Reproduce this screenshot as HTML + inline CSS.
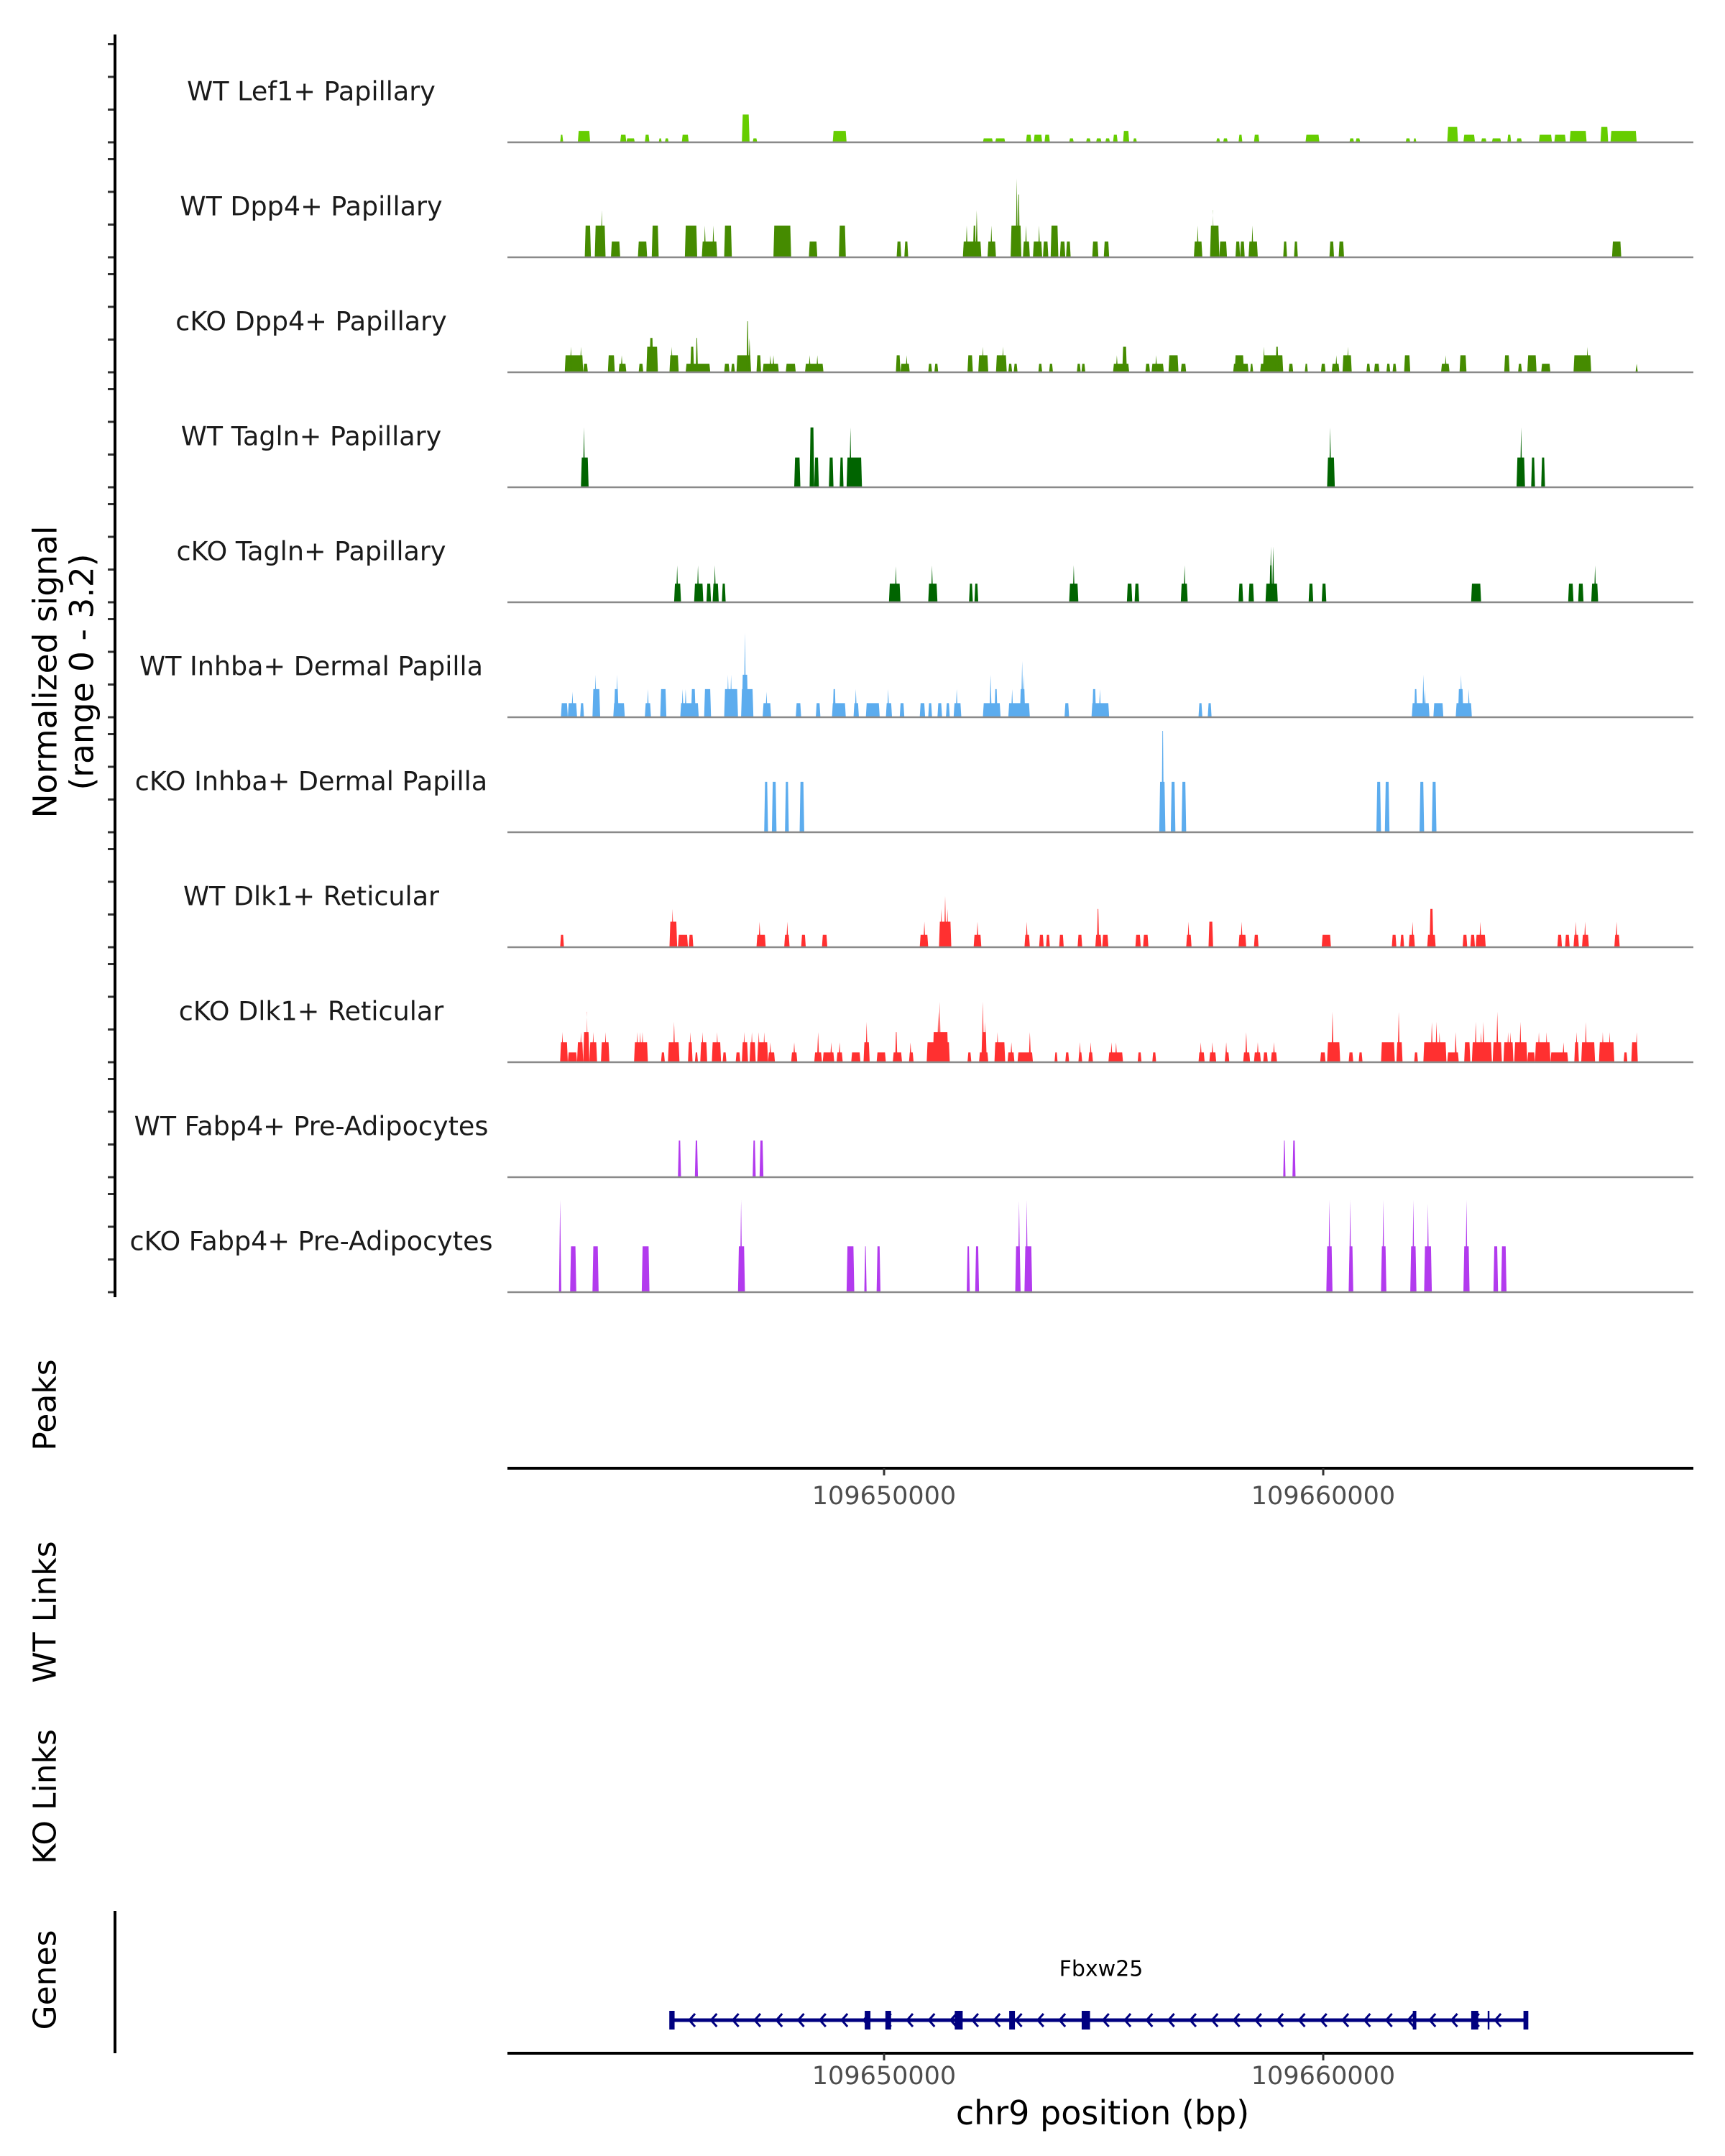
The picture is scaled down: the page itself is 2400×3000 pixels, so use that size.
<!DOCTYPE html>
<html><head><meta charset="utf-8">
<style>
html,body{margin:0;padding:0;background:#fff;}
svg{display:block;}
text{font-family:"DejaVu Sans","Liberation Sans",sans-serif;}
</style></head>
<body>
<svg id="chart" width="2400" height="3000" viewBox="0 0 2400 3000" xmlns="http://www.w3.org/2000/svg">
  <rect width="2400" height="3000" fill="#fff"/>
  <g id="tracks"></g>
  <g id="yaxis"></g>
  <text transform="translate(63,935) rotate(-90)" text-anchor="middle" dominant-baseline="central" font-size="45.5" fill="#000">Normalized signal</text>
  <text transform="translate(114,935) rotate(-90)" text-anchor="middle" dominant-baseline="central" font-size="45.5" fill="#000">(range 0 - 3.2)</text>
  <text transform="translate(63,1955) rotate(-90)" text-anchor="middle" dominant-baseline="central" font-size="44" fill="#000">Peaks</text>
  <text transform="translate(63,2243) rotate(-90)" text-anchor="middle" dominant-baseline="central" font-size="44" fill="#000">WT Links</text>
  <text transform="translate(63,2500) rotate(-90)" text-anchor="middle" dominant-baseline="central" font-size="44" fill="#000">KO Links</text>
  <text transform="translate(63,2755) rotate(-90)" text-anchor="middle" dominant-baseline="central" font-size="44" fill="#000">Genes</text>
  <line x1="160" y1="2659" x2="160" y2="2857" stroke="#000" stroke-width="4"/>
  <g id="xaxes"></g>
  <g id="genes"></g>
  <text x="1534" y="2940" text-anchor="middle" dominant-baseline="central" font-size="46" fill="#000">chr9 position (bp)</text>
</svg>
<script>
// ---- data ----
const regionStart = 109641326;   // bp, first coverage bin
const BIN_BP = 17.535;           // bp per coverage bin
const xTicks = [109650000, 109660000];
const xTickLabels = ["109650000", "109660000"];
const yTicks = [0, 1, 2, 3];
const trackNames = ["WT Lef1+ Papillary","WT Dpp4+ Papillary","cKO Dpp4+ Papillary","WT Tagln+ Papillary","cKO Tagln+ Papillary","WT Inhba+ Dermal Papilla","cKO Inhba+ Dermal Papilla","WT Dlk1+ Reticular","cKO Dlk1+ Reticular","WT Fabp4+ Pre-Adipocytes","cKO Fabp4+ Pre-Adipocytes"];
const trackColors = ["#66cd00","#458b00","#458b00","#006400","#006400","#5cacee","#5cacee","#ff3030","#ff3030","#b23aee","#b23aee"];
// [startBin, endBin, value]
const lef1WT = [[74,78,.23],[97,113,.35],[152,160,.23],[160,171,.12],[184,190,.23],[202,206,.12],[210,215,.12],[232,241,.23],[310,320,.85],[324,330,.12],[428,446,.35],[623,636,.12],[639,652,.12],[679,686,.23],[689,700,.23],[703,710,.23],[735,741,.12],[757,763,.12],[770,777,.12],[782,788,.12],[792,798,.23],[805,813,.35],[818,823,.12],[926,931,.12],[935,941,.12],[955,960,.23],[975,982,.23],[1042,1060,.23],[1099,1105,.12],[1107,1113,.12],[1172,1178,.12],[1182,1186,.12],[1226,1240,.47],[1247,1262,.23],[1270,1277,.12],[1284,1296,.12],[1304,1309,.23],[1316,1323,.12],[1345,1362,.23],[1365,1380,.23],[1385,1407,.35],[1425,1435,.47],[1438,1472,.35]];
const dpp4WT = [[106,114,.97],[119,133,.97],[128,128,1.44],[140,152,.48],[175,187,.48],[193,202,.97],[236,252,.97],[258,278,.48],[262,262,.97],[273,273,.97],[287,297,.97],[351,374,.97],[397,408,.48],[436,445,.97],[511,517,.48],[521,526,.48],[597,621,.48],[602,602,.97],[610,614,.97],[615,615,1.44],[629,640,.48],[634,634,.97],[659,673,.97],[667,667,2.41],[668,671,1.92],[675,684,.48],[679,679,.97],[688,700,.48],[696,696,.97],[701,708,.48],[711,721,.97],[723,730,.48],[731,737,.48],[765,773,.48],[780,787,.48],[897,908,.48],[902,902,.97],[918,930,.97],[930,940,.48],[921,923,1.44],[951,957,.48],[957,963,.48],[968,980,.48],[973,973,.97],[1013,1018,.48],[1027,1032,.48],[1073,1079,.48],[1085,1092,.48],[1440,1452,.48]];
const dpp4KO = [[80,104,.52],[88,88,.78],[101,101,.78],[104,110,.26],[136,145,.52],[150,160,.26],[154,154,.52],[176,182,.26],[186,201,.78],[190,195,1.05],[216,228,.52],[219,219,.78],[237,269,.26],[243,248,.78],[250,253,1.05],[287,294,.26],[296,301,.26],[303,322,.52],[316,319,1.56],[320,320,1.05],[329,335,.52],[337,358,.26],[347,347,.52],[351,351,.52],[367,380,.26],[392,416,.26],[398,398,.52],[408,408,.52],[510,516,.52],[516,528,.26],[524,524,.52],[552,557,.26],[560,565,.26],[603,610,.52],[617,630,.52],[623,623,.78],[640,654,.52],[649,649,.78],[656,661,.26],[663,668,.26],[695,700,.26],[709,714,.26],[745,750,.26],[751,756,.26],[792,813,.26],[797,797,.52],[804,810,.78],[834,840,.26],[842,858,.26],[848,848,.52],[864,877,.52],[880,887,.26],[948,968,.26],[950,962,.52],[970,974,.26],[983,990,.26],[987,1013,.52],[988,988,.78],[1003,1007,.78],[1020,1026,.26],[1041,1045,.26],[1062,1068,.26],[1076,1086,.26],[1082,1082,.52],[1090,1102,.52],[1097,1097,.78],[1121,1126,.26],[1131,1138,.26],[1147,1152,.26],[1155,1160,.26],[1170,1178,.52],[1218,1229,.26],[1224,1224,.52],[1242,1251,.52],[1300,1307,.52],[1318,1323,.26],[1330,1342,.52],[1348,1360,.26],[1390,1413,.52],[1408,1408,.78],[1472,1472,.26]];
const taglnWT = [[101,111,.91],[105,105,1.83],[378,386,.91],[398,404,1.83],[404,410,.91],[423,429,.91],[437,442,.91],[446,466,.91],[451,451,1.83],[1070,1080,.91],[1074,1074,1.83],[1316,1327,.91],[1322,1322,1.83],[1335,1340,.91],[1348,1353,.91]];
const taglnKO = [[222,231,.57],[226,226,1.13],[248,260,.57],[253,253,1.13],[264,270,.57],[272,280,.57],[275,275,1.13],[284,289,.57],[501,516,.57],[510,510,1.1],[552,564,.57],[557,557,1.13],[605,610,.57],[612,617,.57],[735,747,.57],[741,741,1.13],[810,817,.57],[820,826,.57],[880,889,.57],[885,885,1.13],[955,961,.57],[968,975,.57],[990,1006,.57],[995,999,1.13],[997,997,1.7],[1000,1000,1.7],[1046,1052,.57],[1063,1069,.57],[1257,1270,.57],[1383,1390,.57],[1396,1403,.57],[1413,1422,.57],[1418,1418,1.13]];
const inhbaWT = [[75,84,.43],[84,96,.43],[90,90,.78],[100,105,.43],[116,126,.86],[120,120,1.3],[143,158,.43],[144,150,.86],[148,148,1.3],[184,192,.43],[188,188,.86],[204,212,.86],[230,254,.43],[233,233,.86],[237,237,.86],[244,250,.86],[261,270,.86],[287,305,.86],[292,292,1.3],[296,296,1.3],[309,325,.86],[310,318,1.3],[314,314,2.58],[337,348,.43],[342,342,.78],[380,387,.43],[406,412,.43],[427,445,.43],[428,432,.86],[455,462,.43],[458,458,.86],[471,489,.43],[497,505,.43],[500,500,.86],[515,521,.43],[541,548,.43],[552,557,.43],[564,570,.43],[575,580,.43],[585,595,.43],[589,589,.86],[623,646,.43],[633,633,1.3],[638,642,.86],[656,684,.43],[661,661,.86],[671,678,.86],[674,674,1.72],[676,676,1.3],[729,735,.43],[764,787,.43],[765,770,.86],[775,775,.86],[903,908,.43],[915,920,.43],[1180,1203,.43],[1183,1187,.86],[1195,1195,1.3],[1197,1197,.86],[1208,1221,.43],[1237,1258,.43],[1240,1247,.86],[1244,1244,1.3],[1254,1254,.86]];
const inhbaKO = [[339,344,1.54],[349,355,1.54],[366,371,1.54],[385,391,1.54],[852,860,1.54],[855,858,3.1],[867,873,1.54],[881,887,1.54],[1134,1140,1.54],[1145,1151,1.54],[1190,1196,1.54],[1206,1212,1.54]];
const dlk1WT = [[74,79,.38],[216,226,.78],[220,220,1.17],[227,240,.38],[241,247,.38],[329,341,.38],[333,333,.78],[365,372,.38],[369,369,.78],[387,393,.38],[414,421,.38],[541,552,.38],[547,547,.78],[566,582,.78],[569,569,1.17],[574,574,1.56],[577,577,1.17],[611,621,.38],[616,616,.78],[677,684,.38],[680,680,.78],[696,702,.38],[705,710,.38],[722,728,.38],[746,752,.38],[769,777,.38],[771,774,1.17],[778,786,.38],[821,828,.38],[831,838,.38],[887,894,.38],[890,890,.78],[916,922,.78],[955,965,.38],[959,959,.78],[975,981,.38],[1063,1075,.38],[1154,1160,.38],[1165,1170,.38],[1176,1184,.38],[1181,1181,.78],[1200,1211,.38],[1203,1208,1.17],[1246,1252,.38],[1256,1262,.38],[1263,1276,.38],[1269,1269,.78],[1369,1375,.38],[1379,1385,.38],[1390,1397,.38],[1393,1393,.78],[1401,1410,.38],[1405,1405,.78],[1443,1450,.38],[1446,1446,.78]];
const dlk1KO = [[74,84,.61],[77,77,.92],[84,96,.30],[96,104,.61],[101,101,.92],[104,112,.92],[108,110,1.54],[112,122,.61],[117,117,.92],[127,138,.61],[133,133,.92],[170,188,.61],[174,174,.92],[178,178,.92],[181,181,.92],[205,210,.30],[214,229,.61],[222,222,1.23],[240,246,.61],[243,243,.92],[249,253,.30],[256,265,.61],[259,259,.92],[271,283,.61],[278,278,.92],[285,290,.30],[302,308,.30],[310,318,.61],[313,313,.92],[320,328,.61],[323,323,.92],[330,344,.61],[332,332,.92],[339,339,.92],[344,353,.30],[347,347,.61],[374,382,.30],[378,378,.61],[404,414,.30],[409,409,.92],[415,430,.30],[426,426,.61],[433,441,.30],[437,437,.61],[452,464,.30],[468,476,.61],[472,472,1.23],[485,497,.30],[506,518,.30],[509,512,.92],[527,533,.30],[529,529,.61],[550,580,.61],[558,578,.92],[565,565,1.54],[567,567,1.85],[603,608,.30],[618,630,.30],[621,628,.92],[623,623,1.85],[626,626,1.23],[638,652,.61],[642,642,.92],[655,664,.30],[660,660,.61],[668,688,.30],[684,684,.92],[716,720,.30],[730,735,.30],[747,752,.30],[749,749,.61],[760,766,.30],[763,763,.61],[786,805,.30],[790,790,.61],[796,796,.61],[824,829,.30],[843,848,.30],[903,911,.30],[906,906,.61],[917,926,.30],[921,921,.61],[937,943,.30],[939,939,.61],[961,970,.30],[965,965,.92],[975,984,.30],[980,980,.61],[987,993,.30],[997,1005,.30],[1001,1001,.61],[1061,1068,.30],[1070,1087,.61],[1077,1077,1.54],[1098,1104,.30],[1111,1116,.30],[1140,1158,.61],[1160,1168,.61],[1163,1163,1.54],[1183,1188,.30],[1195,1225,.61],[1206,1206,1.23],[1212,1212,1.23],[1216,1216,.92],[1226,1241,.30],[1237,1237,.92],[1248,1256,.61],[1258,1284,.61],[1263,1263,1.23],[1270,1270,.92],[1273,1273,1.23],[1285,1297,.61],[1291,1291,1.54],[1299,1312,.61],[1305,1305,.92],[1308,1308,.92],[1313,1330,.61],[1321,1321,1.23],[1330,1340,.30],[1340,1360,.61],[1345,1345,.92],[1355,1355,.92],[1360,1383,.30],[1377,1377,.61],[1391,1397,.61],[1394,1394,.92],[1400,1418,.61],[1406,1406,1.23],[1423,1443,.61],[1428,1428,.92],[1437,1437,.92],[1455,1460,.30],[1465,1473,.61],[1472,1472,.92]];
const fabp4WT = [[227,231,1.12],[249,253,1.12],[324,328,1.12],[333,338,1.12],[1013,1016,1.12],[1025,1029,1.12]];
const fabp4KO = [[74,74,2.82],[87,95,1.4],[116,124,1.4],[180,190,1.4],[305,314,1.4],[309,309,2.82],[446,456,1.4],[469,472,1.4],[485,490,1.4],[602,606,1.4],[613,618,1.4],[665,672,1.4],[670,670,2.8],[677,687,1.4],[680,680,2.82],[1069,1077,1.4],[1073,1073,2.82],[1098,1104,1.4],[1100,1100,2.82],[1140,1147,1.4],[1143,1143,2.82],[1178,1186,1.4],[1182,1182,2.82],[1196,1206,1.4],[1201,1201,2.7],[1247,1255,1.4],[1251,1251,2.82],[1286,1292,1.4],[1296,1303,1.4]];
const trackData = [lef1WT,dpp4WT,dpp4KO,taglnWT,taglnKO,inhbaWT,inhbaKO,dlk1WT,dlk1KO,fabp4WT,fabp4KO];
const geneName = "Fbxw25";
const geneStart = 109645172, geneEnd = 109664615;
const exonStarts = [109645110,109649560,109650030,109651610,109652850,109654500,109662040,109663370,109663745,109664560];
const exonEnds   = [109645230,109649690,109650160,109651790,109652980,109654690,109662120,109663530,109663785,109664670];

// ---- scales ----
const NS = "http://www.w3.org/2000/svg";
const PLOT_L = 706, PLOT_R = 2356;
const xScale = bp => 1230 + (bp - 109650000) * 0.0611;
const binToBp = b => regionStart + b * BIN_BP;
const baseY = i => 198 + 160 * i;
const yScale = (i, v) => baseY(i) - v * 45.5;
function mk(tag, attrs, parent){ const e=document.createElementNS(NS,tag); for(const k in attrs) e.setAttribute(k,attrs[k]); parent.appendChild(e); return e; }

const tracksG = document.getElementById('tracks');
const yG = document.getElementById('yaxis');
trackNames.forEach((name, i) => {
  const g = mk('g', {}, tracksG);
  
  
  const lbl = mk('text', {x:433, y:baseY(i)-71, 'text-anchor':'middle', 'dominant-baseline':'central', 'font-size':36.5, fill:'#1a1a1a'}, g);
  lbl.textContent = name;
  
  
  trackData[i].forEach(p => {
    let x1 = xScale(binToBp(p[0])), x2 = xScale(binToBp(p[1]));
    const b = baseY(i), t = yScale(i, p[2]);
    let pts;
    if (x2 - x1 < 1) { const c=(x1+x2)/2; pts = `${c-1.6},${b} ${c},${t} ${c+1.6},${b}`; }
    else { pts = `${x1},${b} ${x1+1.2},${t} ${x2-1.2},${t} ${x2},${b}`; }
    const poly = mk('polygon', {points:pts, fill:trackColors[i]}, g);
    
    
  });
  const bl = mk('line', {x1:PLOT_L, y1:baseY(i), x2:PLOT_R, y2:baseY(i), stroke:'#8a8a8a', 'stroke-width':2.5}, g);
  
  
  yTicks.forEach(v => {
    const tk = mk('line', {x1:150, y1:yScale(i,v), x2:160, y2:yScale(i,v), stroke:'#333', 'stroke-width':3}, yG);
    
    
  });
});
const yl = mk('line', {x1:160, y1:48, x2:160, y2:1805, stroke:'#000', 'stroke-width':4}, yG);



// x axes
const xG = document.getElementById('xaxes');
[[2043, 2082], [2857, 2889]].forEach(([ay, ly]) => {
  const al = mk('line', {x1:PLOT_L, y1:ay, x2:PLOT_R, y2:ay, stroke:'#000', 'stroke-width':4}, xG);
  
  
  xTicks.forEach((t, k) => {
    const tk = mk('line', {x1:xScale(t), y1:ay, x2:xScale(t), y2:ay+10, stroke:'#333', 'stroke-width':3}, xG);
    
    
    const tl = mk('text', {x:xScale(t), y:ly, 'text-anchor':'middle', 'dominant-baseline':'central', 'font-size':35, fill:'#4d4d4d'}, xG);
    tl.textContent = xTickLabels[k];
    
    
  });
});

// gene
const gG = document.getElementById('genes');
const gy = 2811, gx1 = xScale(geneStart), gx2 = xScale(geneEnd);
const gl = mk('text', {x:1532, y:2740, 'text-anchor':'middle', 'dominant-baseline':'central', 'font-size':30, fill:'#000'}, gG);
gl.textContent = geneName;


const gline = mk('line', {x1:gx1, y1:gy, x2:gx2, y2:gy, stroke:'#000080', 'stroke-width':5}, gG);


for (let x = gx1 + 28; x < gx2 - 10; x += 30.3) {
  const ch = mk('polyline', {points:`${x+4},${gy-9} ${x-4},${gy} ${x+4},${gy+9}`, fill:'none', stroke:'#000080', 'stroke-width':3}, gG);
  
  
}
exonStarts.forEach((s, k) => {
  const x1 = xScale(s), x2 = xScale(exonEnds[k]);
  const ex = mk('rect', {x:x1, y:gy-13, width:Math.max(2, x2-x1), height:26, fill:'#000080'}, gG);
  
  
});
</script>
</body></html>
